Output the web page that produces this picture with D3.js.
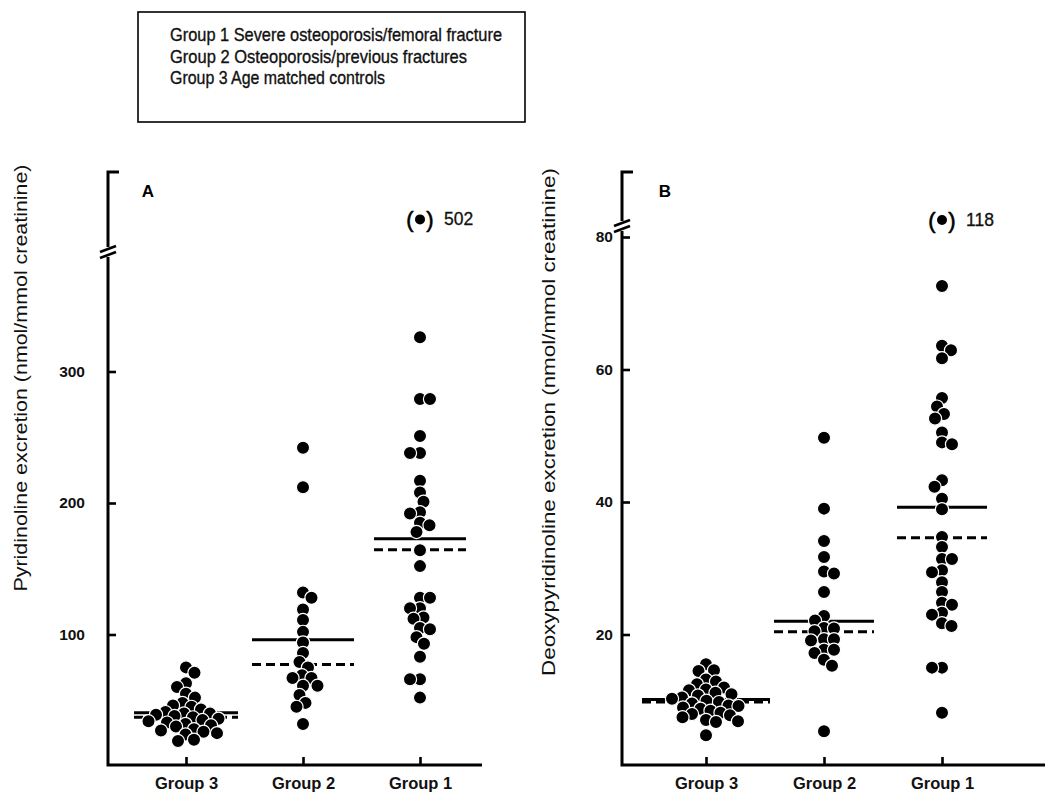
<!DOCTYPE html>
<html>
<head>
<meta charset="utf-8">
<script src="https://cdn.jsdelivr.net/npm/d3@7"></script>
<style>
  html, body { margin: 0; padding: 0; background: #fff; }
  svg { display: block; font-family: "Liberation Sans", Arial, sans-serif; }
</style>
</head>
<body>
<svg id="chart" width="1060" height="795"></svg>
<script>
// ---------------- DATA ----------------
const groups = ["Group 3", "Group 2", "Group 1"];

const legendLines = [
  "Group 1 Severe osteoporosis/femoral fracture",
  "Group 2 Osteoporosis/previous fractures",
  "Group 3 Age matched controls"
];

// Panel A: pyridinoline excretion
const pyrGroup3 = [75, 71, 63, 60, 55, 52, 48, 46, 45, 43, 41, 40, 40, 39, 38, 37, 36, 35, 34, 33, 32, 31, 30, 28, 27, 26, 25, 24, 20, 19];
const pyrGroup2 = [242, 212, 132, 128, 119, 111, 102, 94, 86, 79, 75, 69, 67, 67, 61, 61, 54, 48, 45, 32];
const pyrGroup1 = [326, 279, 279, 251, 238, 238, 217, 208, 201, 193, 192, 185, 183, 178, 164, 152, 128, 128, 120, 120, 113, 112, 105, 104, 98, 93, 83, 66, 66, 52];
const pyrOutlier = { group: "Group 1", value: 502 };
const pyrMean   = [40.4, 96, 172.8];
const pyrMedian = [37.1, 77.2, 164.4];
const pyrTicks = [100, 200, 300];
const pyrLabel = "Pyridinoline excretion (nmol/mmol creatinine)";

// Panel B: deoxypyridinoline excretion
const dpyrGroup3 = [15.5, 14.6, 14.5, 13.2, 12.9, 12.5, 12, 11.7, 11.6, 11.2, 11, 10.8, 10.5, 10.3, 10, 9.8, 9.6, 9.3, 9.2, 9, 8.8, 8.5, 8.2, 8, 7.8, 7.5, 7.1, 6.9, 6.8, 4.8];
const dpyrGroup2 = [49.7, 39, 34.1, 31.7, 29.5, 29.2, 26.4, 22.8, 22.1, 21, 20.9, 20.5, 19.3, 19.3, 19.1, 17.7, 17.7, 17.2, 16.2, 15.3, 5.4];
const dpyrGroup1 = [72.6, 63.6, 62.9, 61.7, 55.7, 54.4, 53.3, 52.6, 50.5, 49, 48.7, 43.3, 42.3, 40.5, 38.9, 34.7, 33.2, 31.4, 31.4, 29.7, 29.4, 27.9, 26.4, 24.8, 24.5, 23.3, 23, 21.7, 21.3, 15, 15, 8.2];
const dpyrOutlier = { group: "Group 1", value: 118 };
const dpyrMean   = [10.2, 22.0, 39.2];
const dpyrMedian = [9.8, 20.4, 34.6];
const dpyrTicks = [20, 40, 60, 80];
const dpyrLabel = "Deoxypyridinoline excretion (nmol/mmol creatinine)";

// ---------------- LAYOUT ----------------
const svg = d3.select("#chart");
const R = 6.6;
const FONT = '"Liberation Sans", Arial, sans-serif';

const panels = [
  {
    letter: "A",
    series: [pyrGroup3, pyrGroup2, pyrGroup1],
    mean: pyrMean, median: pyrMedian, outlier: pyrOutlier,
    ticks: pyrTicks, label: pyrLabel,
    axisX: 108, top: 172, breakY: 252, bottom: 765, right: 482,
    xRange: [186, 420],
    yLowerDomain: [0, 300], yLowerRange: [766, 371.5],
    yUpperDomain: [480, 520], yUpperRange: [248, 196],
    tickPad: 23, labelX: 20, labelY: 378, labelLen: 427,
    letterX: 148, halfWidths: [52, 51, 46]
  },
  {
    letter: "B",
    series: [dpyrGroup3, dpyrGroup2, dpyrGroup1],
    mean: dpyrMean, median: dpyrMedian, outlier: dpyrOutlier,
    ticks: dpyrTicks, label: dpyrLabel,
    axisX: 622, top: 172, breakY: 226, bottom: 765, right: 1045,
    xRange: [706, 942],
    yLowerDomain: [0, 80], yLowerRange: [767, 237],
    yUpperDomain: [110, 130], yUpperRange: [232, 202],
    tickPad: 9, labelX: 548, labelY: 422, labelLen: 508,
    letterX: 665, halfWidths: [64, 50, 45]
  }
];

// ---------------- LEGEND ----------------
svg.append("rect")
  .attr("x", 138).attr("y", 12).attr("width", 387).attr("height", 110)
  .attr("fill", "none").attr("stroke", "#000").attr("stroke-width", 1.6);
const legendWidths = [332, 297, 215];
svg.append("g").selectAll("text").data(legendLines).join("text")
  .attr("x", 170).attr("y", (d, i) => 41 + i * 21.5)
  .attr("font-family", FONT).attr("font-size", 19)
  .attr("textLength", (d, i) => legendWidths[i]).attr("lengthAdjust", "spacingAndGlyphs")
  .attr("fill", "#111").attr("stroke", "#111").attr("stroke-width", 0.35)
  .text(d => d);

// ---------------- beeswarm ----------------
function swarm(values, y, r) {
  const pts = values.map(v => ({ v, y: y(v) })).sort((a, b) => a.y - b.y);
  const placed = [];
  const minD = 2 * r * 0.74;
  let flip = 1;
  pts.forEach(p => {
    let chosen = null;
    for (let k = 0; k < 400 && chosen === null; k++) {
      const off = k * 0.5;
      const cands = off === 0 ? [0] : [flip * off, -flip * off];
      for (const c of cands) {
        const ok = placed.every(q => Math.hypot(c - q.dx, p.y - q.y) >= minD);
        if (ok) { chosen = c; break; }
      }
    }
    if (chosen !== 0) flip = -Math.sign(chosen);
    p.dx = chosen;
    placed.push(p);
  });
  return placed;
}

// ---------------- PANELS ----------------
panels.forEach(P => {
  const g = svg.append("g");
  const x = d3.scalePoint().domain(groups).range(P.xRange);
  const y = d3.scaleLinear().domain(P.yLowerDomain).range(P.yLowerRange);
  const yUp = d3.scaleLinear().domain(P.yUpperDomain).range(P.yUpperRange);

  // y axis ticks + labels
  const yAxis = d3.axisLeft(y).tickValues(P.ticks).tickSizeInner(-8).tickSizeOuter(0).tickPadding(P.tickPad);
  const ya = g.append("g").attr("transform", `translate(${P.axisX},0)`).call(yAxis);
  ya.select(".domain").remove();
  ya.selectAll(".tick line").attr("stroke", "#000").attr("stroke-width", 2.6);
  ya.selectAll(".tick text").attr("font-family", FONT).attr("font-size", 15.5)
    .attr("font-weight", "bold").attr("fill", "#111");

  // x axis ticks + labels
  const xAxis = d3.axisBottom(x).tickSizeInner(-8).tickSizeOuter(0).tickPadding(12);
  const xa = g.append("g").attr("transform", `translate(0,${P.bottom})`).call(xAxis);
  xa.select(".domain").remove();
  xa.selectAll(".tick line").attr("stroke", "#000").attr("stroke-width", 2.6);
  xa.selectAll(".tick text").attr("font-family", FONT).attr("font-size", 16.5)
    .attr("font-weight", "bold").attr("fill", "#111");

  // axis lines with break
  const ax = P.axisX;
  const lw = 3;
  g.append("path")
    .attr("d", `M${ax + 11},${P.top} H${ax} V${P.breakY - 5}`)
    .attr("fill", "none").attr("stroke", "#000").attr("stroke-width", lw);
  g.append("path")
    .attr("d", `M${ax},${P.breakY + 5} V${P.bottom} H${P.right}`)
    .attr("fill", "none").attr("stroke", "#000").attr("stroke-width", lw);
  [-3, 3].forEach(o => {
    g.append("line")
      .attr("x1", ax - 8).attr("y1", P.breakY + o + 3)
      .attr("x2", ax + 8).attr("y2", P.breakY + o - 3)
      .attr("stroke", "#000").attr("stroke-width", 2.6);
  });

  // panel letter
  g.append("text").attr("x", P.letterX).attr("y", 197)
    .attr("font-family", FONT).attr("font-size", 17).attr("font-weight", "bold")
    .attr("text-anchor", "middle").text(P.letter);

  // y label
  g.append("text")
    .attr("transform", `translate(${P.labelX},${P.labelY}) rotate(-90)`)
    .attr("text-anchor", "middle").attr("dominant-baseline", "central")
    .attr("font-family", FONT).attr("font-size", 19)
    .attr("textLength", P.labelLen).attr("lengthAdjust", "spacingAndGlyphs")
    .attr("fill", "#111")
    .text(P.label);

  // mean (solid) and median (dashed) lines
  groups.forEach((grp, i) => {
    const cx = x(grp), hw = P.halfWidths[i];
    g.append("line").attr("x1", cx - hw).attr("x2", cx + hw)
      .attr("y1", y(P.mean[i])).attr("y2", y(P.mean[i]))
      .attr("stroke", "#000").attr("stroke-width", 3);
    g.append("line").attr("x1", cx - hw).attr("x2", cx + hw)
      .attr("y1", y(P.median[i])).attr("y2", y(P.median[i]))
      .attr("stroke", "#000").attr("stroke-width", 3).attr("stroke-dasharray", "9,5");
  });

  // dots
  groups.forEach((grp, i) => {
    const pts = swarm(P.series[i], y, R);
    g.append("g").selectAll("circle").data(pts).join("circle")
      .attr("cx", d => x(grp) + d.dx).attr("cy", d => d.y).attr("r", R)
      .attr("fill", "#000").attr("stroke", "#fff").attr("stroke-width", 1.2);
  });

  // outlier above the break
  const ox = x(P.outlier.group), oy = yUp(P.outlier.value);
  g.append("circle").attr("cx", ox).attr("cy", oy).attr("r", 5).attr("fill", "#000");
  g.append("text").attr("x", ox - 10).attr("y", oy).attr("text-anchor", "middle")
    .attr("dominant-baseline", "central").attr("font-family", FONT).attr("font-size", 22)
    .attr("stroke", "#000").attr("stroke-width", 0.6).text("(");
  g.append("text").attr("x", ox + 10).attr("y", oy).attr("text-anchor", "middle")
    .attr("dominant-baseline", "central").attr("font-family", FONT).attr("font-size", 22)
    .attr("stroke", "#000").attr("stroke-width", 0.6).text(")");
  g.append("text").attr("x", ox + 24).attr("y", oy).attr("dominant-baseline", "central")
    .attr("font-family", FONT).attr("font-size", 17.5).attr("fill", "#111")
    .attr("stroke", "#111").attr("stroke-width", 0.3)
    .text(P.outlier.value);
});
</script>
</body>
</html>
